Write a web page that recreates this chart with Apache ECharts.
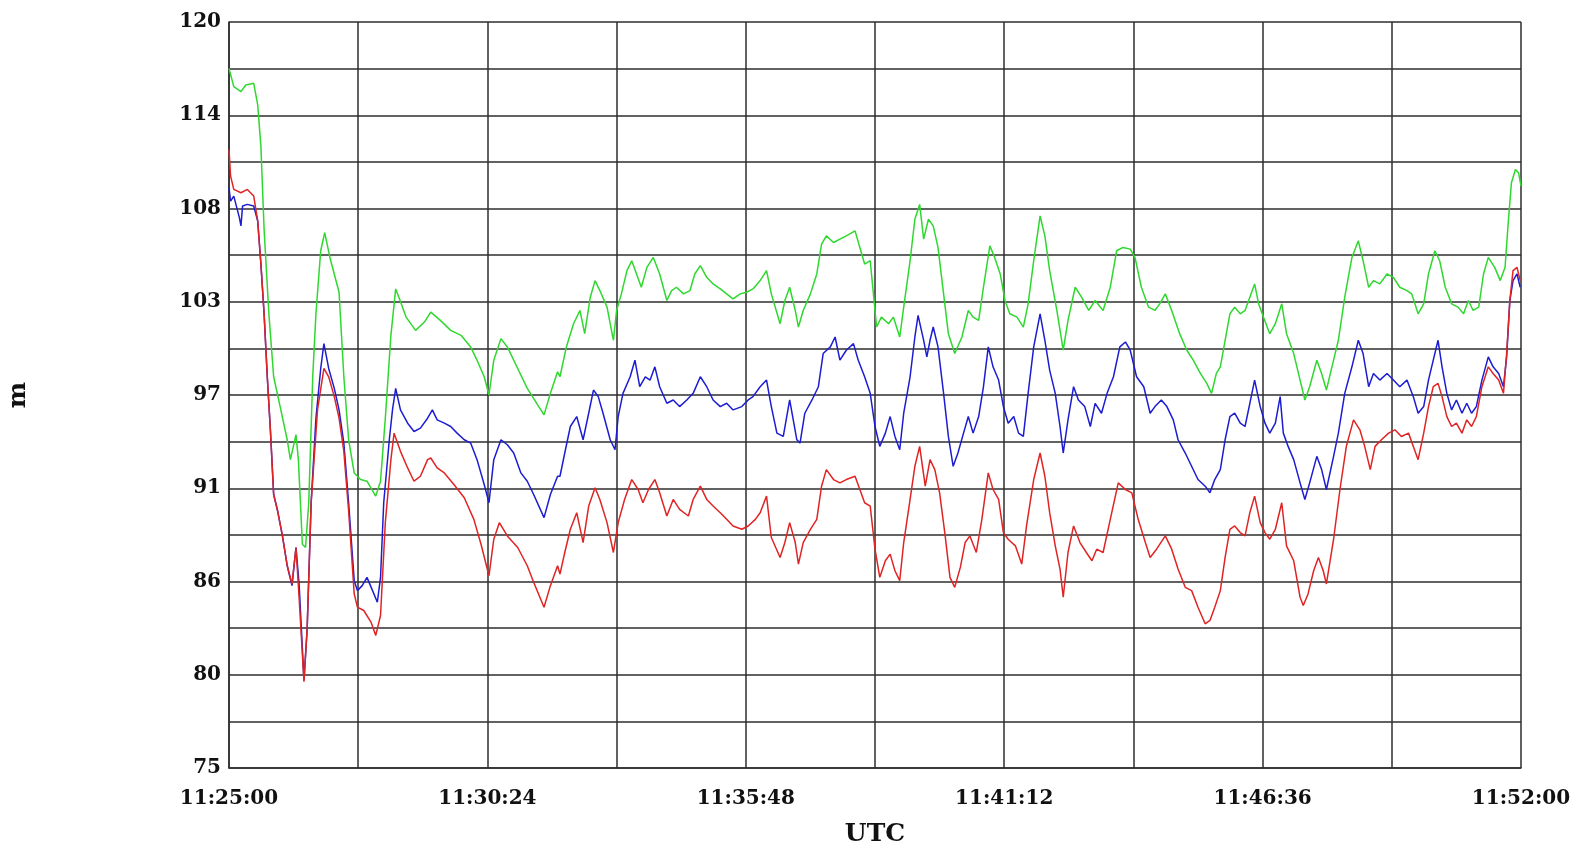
<!DOCTYPE html>
<html>
<head>
<meta charset="utf-8">
<title>m / UTC</title>
<script src="https://cdn.jsdelivr.net/npm/echarts@6/dist/echarts.min.js"></script>
<style>
  html, body { margin: 0; padding: 0; background: #fff; }
  #chart { width: 1581px; height: 844px; }
</style>
</head>
<body>
<div id="chart"></div>
<script>
// Time axis: seconds after 11:25:00 UTC, tick every 162 s, label every 324 s
const xTickLabels = ['11:25:00', '11:30:24', '11:35:48', '11:41:12', '11:46:36', '11:52:00'];
// Height axis: 16 grid steps between 75 and 120 m, label every second step
const yTickLabels = ['75', '80', '86', '91', '97', '103', '108', '114', '120'];

// [seconds after 11:25:00, metres]
const greenSeries = [
  [0,117.2],[6,116.1],[15,115.8],[21,116.2],[31,116.3],[36,115.0],[40,112.5],[44,107.5],[50,102.4],[56,98.6],
  [65,96.6],[73,94.8],[77,93.6],[84,95.1],[87,93.6],[92,88.5],[96,88.3],[100,91.0],[105,98.6],[109,102.4],
  [115,106.2],[120,107.3],[127,105.7],[138,103.7],[144,98.6],[150,94.8],[157,92.8],[165,92.4],[173,92.3],[184,91.4],
  [190,92.3],[196,96.1],[203,101.1],[209,103.9],[213,103.4],[222,102.2],[234,101.4],[245,101.9],[253,102.5],[265,102.0],
  [278,101.4],[291,101.1],[303,100.4],[311,99.6],[320,98.6],[326,97.5],[332,99.6],[341,100.9],[349,100.4],[362,99.1],
  [374,97.9],[387,96.9],[395,96.3],[403,97.6],[412,98.9],
  [415,98.6],[423,100.4],[432,101.8],[440,102.6],[446,101.2],[453,103.4],[459,104.4],[465,103.8],[474,102.8],[482,100.8],
  [486,102.6],[492,103.6],[499,105.0],[505,105.6],[511,104.8],[517,104.0],[524,105.2],[532,105.8],[540,104.8],[549,103.2],
  [555,103.8],[561,104.0],[570,103.6],[578,103.8],[584,104.8],[591,105.3],[599,104.6],[607,104.2],[616,103.9],[624,103.6],
  [632,103.3],[641,103.6],[649,103.7],[657,103.9],[666,104.4],[674,105.0],[680,103.6],[691,101.8],[697,103.2],[703,104.0],
  [710,102.6],[714,101.6],[720,102.6],[729,103.6],[737,104.8],[743,106.6],[749,107.1],[758,106.7],[766,106.9],[774,107.1],
  [785,107.4],[791,106.4],[797,105.4],[804,105.6],[808,103.6],[812,101.6],[818,102.2],[827,101.8],[833,102.2],
  [841,101.0],[846,102.8],[854,105.6],[860,108.1],[866,109.0],[871,106.9],[877,108.1],[883,107.7],[889,106.4],[896,103.6],
  [902,101.2],[910,100.0],[919,101.0],[927,102.6],[933,102.2],[940,102.0],[946,104.0],[954,106.5],[960,105.8],[967,104.8],
  [973,103.2],[979,102.4],[988,102.2],[996,101.6],[1002,103.0],[1009,105.6],[1017,108.3],[1023,107.1],[1029,105.0],[1038,102.6],
  [1046,100.2],[1052,102.0],[1061,104.0],[1069,103.4],[1078,102.6],[1086,103.2],[1096,102.6],[1105,104.0],[1113,106.2],[1121,106.4],
  [1130,106.3],[1136,105.8],[1144,104.0],[1153,102.8],[1161,102.6],[1167,103.0],[1174,103.6],[1182,102.6],[1192,101.2],[1201,100.2],
  [1209,99.6],[1218,98.8],[1226,98.2],[1232,97.6],[1238,98.8],
  [1243,99.2],[1249,100.8],[1255,102.4],[1261,102.8],[1268,102.4],[1274,102.6],[1280,103.4],[1286,104.2],[1291,103.0],[1297,102.2],
  [1305,101.2],[1312,101.8],[1320,103.0],[1326,101.2],[1335,100.0],[1343,98.4],[1349,97.2],[1355,98.0],[1364,99.6],[1370,98.8],
  [1376,97.8],[1385,99.6],[1391,100.8],[1399,103.4],[1408,105.8],[1416,106.8],[1422,105.6],[1429,104.0],[1435,104.4],[1443,104.2],
  [1452,104.8],[1460,104.6],[1468,104.0],[1477,103.8],[1483,103.6],[1491,102.4],[1498,103.0],[1504,104.8],[1512,106.2],[1518,105.6],
  [1525,104.0],[1533,103.0],[1541,102.8],[1548,102.4],[1554,103.2],[1560,102.6],[1567,102.8],[1573,104.8],[1579,105.8],[1587,105.2],
  [1594,104.4],[1600,105.2],[1604,107.9],[1608,110.3],[1613,111.1],[1617,110.9],[1620,110.1]
];

const blueSeries = [
  [0,110.0],[2,109.2],[6,109.5],[13,108.2],[15,107.7],[17,108.9],[23,109.0],[31,108.9],[36,108.0],[40,105.4],
  [44,102.4],[48,98.6],[52,95.3],[56,91.5],[61,90.5],[67,89.0],[73,87.2],[79,86.0],[84,88.3],[88,86.0],
  [94,80.3],[98,83.4],[103,91.0],[109,96.1],[115,99.1],[119,100.6],[125,99.1],[132,97.9],[138,96.6],[144,94.6],
  [150,91.0],[157,86.3],[161,85.7],[167,86.0],[173,86.5],[180,85.7],[186,85.0],[190,86.5],[194,91.0],[201,94.8],
  [205,96.6],[209,97.9],[215,96.6],[224,95.8],[232,95.3],[240,95.5],[249,96.1],[255,96.6],[261,96.0],[270,95.8],
  [278,95.6],[286,95.2],[295,94.8],[303,94.6],[311,93.6],[320,92.1],[326,91.0],[332,93.6],[341,94.8],[349,94.5],
  [357,94.0],[366,92.8],[374,92.3],[382,91.5],[395,90.1],[403,91.5],[412,92.6],
  [415,92.6],[421,94.0],[428,95.6],[436,96.2],[444,94.8],[451,96.4],[457,97.8],[463,97.4],[469,96.4],[478,94.8],
  [484,94.2],[488,96.2],[494,97.6],[503,98.6],[509,99.6],[515,98.0],[522,98.6],[528,98.4],[534,99.2],[540,98.0],
  [549,97.0],[557,97.2],[565,96.8],[574,97.2],[582,97.6],[591,98.6],[599,98.0],[607,97.2],[616,96.8],[624,97.0],
  [632,96.6],[643,96.8],[651,97.2],[657,97.4],[666,98.0],[674,98.4],[680,96.8],[687,95.2],[695,95.0],[703,97.2],
  [712,94.8],[716,94.6],[722,96.4],[731,97.2],[739,98.0],[745,100.0],[754,100.4],[760,101.0],[766,99.6],[774,100.2],
  [783,100.6],[789,99.6],[797,98.6],[804,97.6],[810,95.6],[816,94.4],[823,95.2],[829,96.2],[835,95.0],[841,94.2],
  [846,96.4],[854,98.6],[860,101.0],[864,102.3],[871,100.8],[875,99.8],[879,100.8],[883,101.6],[889,100.4],[896,97.6],
  [902,95.0],[908,93.2],[914,94.0],[921,95.2],[927,96.2],[933,95.2],[940,96.2],[946,98.0],[952,100.4],[958,99.2],
  [965,98.4],[971,96.8],[977,95.8],[984,96.2],[990,95.2],[996,95.0],[1002,97.6],[1009,100.4],[1017,102.4],[1023,100.8],
  [1029,99.0],[1036,97.6],[1042,95.6],[1046,94.0],[1052,96.0],[1059,98.0],[1065,97.2],[1073,96.8],[1080,95.6],[1086,97.0],
  [1094,96.4],[1101,97.6],[1109,98.6],[1117,100.4],[1124,100.7],[1130,100.2],[1138,98.6],[1147,98.0],[1155,96.4],[1161,96.8],
  [1169,97.2],[1176,96.8],[1184,96.0],[1190,94.8],[1199,94.0],[1207,93.2],[1215,92.4],[1224,92.0],[1230,91.6],[1236,92.4],
  [1243,93.0],[1249,94.8],[1255,96.2],[1261,96.4],[1268,95.8],[1274,95.6],[1280,97.0],[1286,98.4],[1293,96.8],[1299,95.8],
  [1305,95.2],[1312,95.8],[1318,97.4],[1322,95.2],[1328,94.4],[1335,93.6],[1343,92.2],[1349,91.2],[1355,92.2],[1364,93.8],
  [1370,93.0],[1376,91.8],[1385,93.8],[1391,95.2],[1399,97.6],[1408,99.2],[1416,100.8],[1422,100.0],[1429,98.0],[1435,98.8],
  [1443,98.4],[1452,98.8],[1460,98.4],[1468,98.0],[1477,98.4],[1485,97.4],[1491,96.4],[1498,96.8],[1504,98.4],[1510,99.6],
  [1516,100.8],[1521,99.2],[1527,97.6],[1533,96.6],[1539,97.2],[1546,96.4],[1552,97.0],[1558,96.4],[1564,96.8],[1571,98.4],
  [1579,99.8],[1585,99.2],[1592,98.8],[1598,98.0],[1602,99.8],[1606,103.2],[1610,104.4],[1615,104.8],[1619,104.0]
];

const redSeries = [
  [0,112.3],[2,110.7],[6,109.9],[15,109.7],[23,109.9],[31,109.5],[36,108.0],[40,105.4],[44,102.4],[48,98.6],
  [52,95.3],[56,91.5],[61,90.5],[67,89.0],[73,87.2],[79,86.1],[84,88.3],[88,85.2],[94,80.2],[98,83.4],
  [103,91.0],[111,96.6],[119,99.1],[125,98.6],[132,97.4],[138,96.1],[144,94.1],[150,90.5],[157,85.5],[161,84.7],
  [169,84.5],[178,83.8],[184,83.0],[190,84.2],[196,89.8],[203,93.6],[207,95.2],[215,94.1],[224,93.1],[232,92.3],
  [240,92.6],[249,93.6],[253,93.7],[261,93.1],[270,92.8],[282,92.1],[295,91.3],[307,90.0],[316,88.5],[326,86.6],
  [332,88.8],[339,89.8],[349,89.0],[362,88.3],[374,87.2],[382,86.2],[395,84.7],[403,86.0],[412,87.2],
  [415,86.7],[421,88.0],[428,89.4],[436,90.4],[444,88.6],[451,90.8],[459,91.9],[465,91.2],[474,89.8],[482,88.0],
  [488,89.8],[496,91.2],[505,92.4],[513,91.8],[519,91.0],[526,91.8],[534,92.4],[540,91.6],[549,90.2],[557,91.2],
  [565,90.6],[576,90.2],[582,91.2],[591,92.0],[599,91.2],[607,90.8],[616,90.4],[624,90.0],[632,89.6],[643,89.4],
  [651,89.6],[660,90.0],[666,90.4],[674,91.4],[680,88.9],[691,87.7],[697,88.6],[703,89.8],[710,88.6],[714,87.3],
  [720,88.6],[729,89.4],[737,90.0],[743,92.0],[749,93.0],[758,92.4],[766,92.2],[774,92.4],[785,92.6],[791,91.8],
  [797,91.0],[804,90.8],[810,88.2],[816,86.5],[823,87.5],[829,87.9],[835,86.9],[841,86.3],
  [846,88.6],[854,91.2],[860,93.2],[866,94.4],[873,92.0],[879,93.6],[885,93.0],[891,91.6],[898,89.0],[904,86.5],
  [910,85.9],[917,87.1],[923,88.6],[929,89.0],[937,88.0],[944,90.0],[952,92.8],[958,91.8],[965,91.2],[971,89.2],
  [977,88.8],[986,88.4],[994,87.3],[1000,89.6],[1009,92.4],[1017,94.0],[1023,92.6],[1029,90.4],[1036,88.4],[1042,87.0],
  [1046,85.3],[1052,88.0],[1059,89.6],[1067,88.6],[1075,88.0],[1082,87.5],[1088,88.2],[1096,88.0],[1105,90.0],[1115,92.2],
  [1124,91.8],[1132,91.6],[1140,90.0],[1149,88.6],[1155,87.7],[1163,88.2],[1174,89.0],[1182,88.2],[1190,87.0],[1199,85.9],
  [1207,85.7],[1215,84.7],[1224,83.7],[1230,83.9],[1236,84.7],
  [1243,85.7],[1249,87.7],[1255,89.4],[1261,89.6],[1268,89.2],[1274,89.0],[1280,90.4],[1286,91.4],[1293,89.8],[1299,89.2],
  [1305,88.8],[1312,89.4],[1320,91.0],[1326,88.4],[1335,87.5],[1343,85.3],[1347,84.8],[1353,85.5],[1360,86.9],[1366,87.7],
  [1372,86.9],[1376,86.1],[1385,88.8],[1393,91.8],[1401,94.4],[1410,96.0],[1418,95.4],[1424,94.4],[1431,93.0],[1437,94.4],
  [1445,94.8],[1454,95.2],[1462,95.4],[1470,95.0],[1479,95.2],[1485,94.4],[1491,93.6],[1498,95.2],[1504,96.8],[1510,98.0],
  [1516,98.2],[1521,97.4],[1527,96.2],[1533,95.6],[1539,95.8],[1546,95.2],[1552,96.0],[1558,95.6],[1564,96.2],[1571,98.0],
  [1579,99.2],[1585,98.8],[1592,98.4],[1598,97.6],[1602,100.0],[1606,103.2],[1610,105.0],[1615,105.2],[1619,104.4]
];

const GRID_COLOR = '#2e2e2e';
const labelFont = {
  fontFamily: 'DejaVu Serif',
  fontWeight: 'bold',
  fontSize: 20,
  color: '#111111'
};

function lineSeries(data, color) {
  return {
    type: 'line',
    xAxisIndex: 0,
    yAxisIndex: 1,
    data: data,
    showSymbol: false,
    symbol: 'none',
    smooth: false,
    lineStyle: { color: color, width: 1.5 },
    silent: true,
    z: 3
  };
}

const chart = echarts.init(document.getElementById('chart'), null, { renderer: 'canvas' });

chart.setOption({
  animation: false,
  backgroundColor: '#ffffff',
  grid: {
    left: 229, right: 60, top: 22, bottom: 76,
    containLabel: false,
    outerBoundsMode: 'none'
  },
  xAxis: {
    type: 'value',
    min: 0,
    max: 1620,
    interval: 162,
    name: 'UTC',
    nameLocation: 'middle',
    nameGap: 54,
    nameTextStyle: Object.assign({}, labelFont, { fontSize: 25 }),
    axisLine: { show: true, lineStyle: { color: GRID_COLOR, width: 1.5 } },
    axisTick: { show: false },
    splitLine: { show: true, lineStyle: { color: GRID_COLOR, width: 1.5 } },
    axisLabel: Object.assign({}, labelFont, {
      margin: 21,
      showMinLabel: true,
      showMaxLabel: true,
      formatter: function (v) {
        return v % 324 === 0 ? xTickLabels[v / 324] : '';
      }
    })
  },
  yAxis: [
    {
      // grid and labels: 16 equal steps from 75 m to 120 m
      type: 'value',
      min: 0,
      max: 16,
      interval: 1,
      name: 'm',
      nameLocation: 'middle',
      nameRotate: 90,
      nameGap: 198,
      nameTextStyle: Object.assign({}, labelFont, { fontSize: 25 }),
      axisLine: { show: true, lineStyle: { color: GRID_COLOR, width: 1.5 } },
      axisTick: { show: false },
      splitLine: { show: true, lineStyle: { color: GRID_COLOR, width: 1.5 } },
      axisLabel: Object.assign({}, labelFont, {
        margin: 8,
        showMinLabel: true,
        showMaxLabel: true,
        formatter: function (v) {
          return v % 2 === 0 ? yTickLabels[v / 2] : '';
        }
      })
    },
    {
      // data scale in metres
      type: 'value',
      min: 75,
      max: 120,
      show: false
    }
  ],
  series: [
    lineSeries(greenSeries, '#2ed82e'),
    lineSeries(blueSeries, '#1c1cd2'),
    lineSeries(redSeries, '#e02424')
  ]
});
</script>
</body>
</html>
